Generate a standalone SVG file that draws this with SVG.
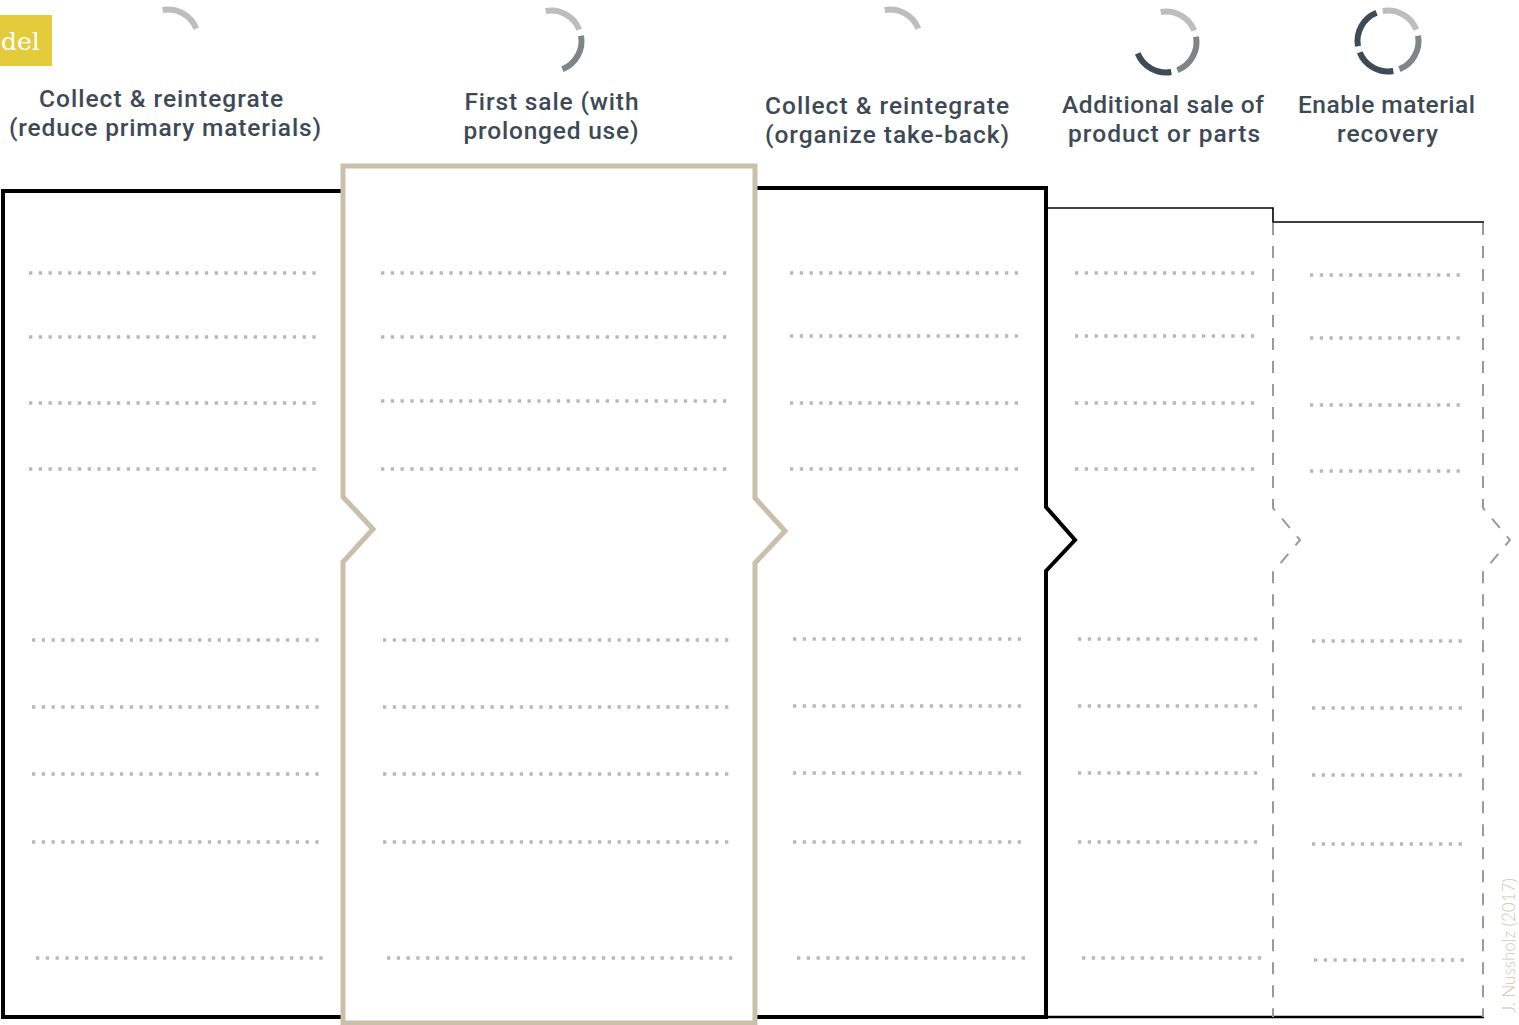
<svg xmlns="http://www.w3.org/2000/svg" xmlns:xlink="http://www.w3.org/1999/xlink" width="1519" height="1025" viewBox="0 0 1519 1025">
  <style>
    .title { font-family: Roboto, "Noto Sans", sans-serif; font-weight: 500; font-size: 24.5px; fill: #3d4a56; text-anchor: middle; }
    .dots { stroke: #b8b8b8; stroke-width: 3.3; stroke-dasharray: 3.3 6.47; fill: none; }
    .frame { fill: none; stroke: #000; stroke-linejoin: miter; }
    .dash { fill: none; stroke: #9a9a9a; stroke-width: 2; stroke-dasharray: 12 11; }
    .seg { fill: none; stroke-width: 6; }
    .s1 { stroke: #bdbdbd; }
    .s2 { stroke: #7e8586; }
    .s3 { stroke: #3e4a56; }
  </style>
  <defs>
    <!-- cycle icon segments, radius 30.5 around the origin -->
    <path id="arc1" d="M-5.30,-30.04 A30.5,30.5 0 0 1 28.28,-11.43"/>
    <path id="arc2" d="M30.04,-5.30 A30.5,30.5 0 0 1 11.43,28.28"/>
    <path id="arc3" d="M5.30,30.04 A30.5,30.5 0 0 1 -28.28,11.43"/>
    <path id="arc4" d="M-30.04,5.30 A30.5,30.5 0 0 1 -11.43,-28.28"/>
  </defs>

  <rect width="1519" height="1025" fill="#fff"/>

  <!-- cropped heading tag -->
  <g id="tag">
    <rect x="0" y="15" width="52" height="51" fill="#e3cb3b"/>
    <text x="1" y="50" font-family="DejaVu Serif, serif" font-size="25" fill="#fff">del</text>
  </g>

  <!-- column frames (chevrons mark the flow between columns) -->
  <g id="connectors">
    <path class="frame" stroke-width="4" d="M341,191 H3 V1017 H345"/>
    <path class="frame" stroke-width="4" d="M757,188 H1046 V507 L1075,540 L1046,571 V1017 H755"/>
    <path class="frame" stroke-width="1.6" d="M1046,208 H1273 V222 H1484"/>
    <path class="frame" stroke-width="2.6" d="M1046,1017 H1484"/>
    <path class="dash" d="M1273,223 V508 L1300,540 L1273,572 V1017"/>
    <path class="dash" d="M1483,223 V508 L1510,540 L1483,572 V1017"/>
  </g>

  <!-- column 1 -->
  <g id="col-collect-reduce">
    <use href="#arc1" class="seg s1" transform="translate(168,40)"/>
    <text class="title" x="161" y="107" textLength="244">Collect &amp; reintegrate</text>
    <text class="title" x="165" y="136" textLength="312">(reduce primary materials)</text>
    <line class="dots" x1="29" y1="273" x2="317" y2="273"/>
    <line class="dots" x1="29" y1="337" x2="317" y2="337"/>
    <line class="dots" x1="29" y1="403" x2="317" y2="403"/>
    <line class="dots" x1="29" y1="469" x2="317" y2="469"/>
    <line class="dots" x1="32" y1="640" x2="320" y2="640"/>
    <line class="dots" x1="32" y1="707" x2="320" y2="707"/>
    <line class="dots" x1="32" y1="774" x2="320" y2="774"/>
    <line class="dots" x1="32" y1="842" x2="320" y2="842"/>
    <line class="dots" x1="36" y1="958" x2="324" y2="958"/>
  </g>

  <!-- column 3 -->
  <g id="col-collect-takeback">
    <use href="#arc1" class="seg s1" transform="translate(890,40)"/>
    <text class="title" x="887" y="114" textLength="244">Collect &amp; reintegrate</text>
    <text class="title" x="887" y="143" textLength="244">(organize take-back)</text>
    <line class="dots" x1="790" y1="273" x2="1020" y2="273"/>
    <line class="dots" x1="790" y1="336" x2="1020" y2="336"/>
    <line class="dots" x1="790" y1="403" x2="1020" y2="403"/>
    <line class="dots" x1="790" y1="469" x2="1020" y2="469"/>
    <line class="dots" x1="793" y1="639" x2="1023" y2="639"/>
    <line class="dots" x1="793" y1="706" x2="1023" y2="706"/>
    <line class="dots" x1="793" y1="773" x2="1023" y2="773"/>
    <line class="dots" x1="793" y1="842" x2="1023" y2="842"/>
    <line class="dots" x1="797" y1="958" x2="1027" y2="958"/>
  </g>

  <!-- column 4 -->
  <g id="col-additional-sale">
    <use href="#arc1" class="seg s1" transform="translate(1166,42)"/>
    <use href="#arc2" class="seg s2" transform="translate(1166,42)"/>
    <use href="#arc3" class="seg s3" transform="translate(1166,42)"/>
    <text class="title" x="1163" y="113" textLength="202">Additional sale of</text>
    <text class="title" x="1164" y="142" textLength="192">product or parts</text>
    <line class="dots" x1="1075" y1="273" x2="1256" y2="273"/>
    <line class="dots" x1="1075" y1="336" x2="1256" y2="336"/>
    <line class="dots" x1="1075" y1="403" x2="1256" y2="403"/>
    <line class="dots" x1="1075" y1="469" x2="1256" y2="469"/>
    <line class="dots" x1="1078" y1="639" x2="1259" y2="639"/>
    <line class="dots" x1="1078" y1="706" x2="1259" y2="706"/>
    <line class="dots" x1="1078" y1="773" x2="1259" y2="773"/>
    <line class="dots" x1="1078" y1="842" x2="1259" y2="842"/>
    <line class="dots" x1="1082" y1="958" x2="1263" y2="958"/>
  </g>

  <!-- column 5 -->
  <g id="col-material-recovery">
    <use href="#arc1" class="seg s1" transform="translate(1388,41)"/>
    <use href="#arc2" class="seg s2" transform="translate(1388,41)"/>
    <use href="#arc3" class="seg s3" transform="translate(1388,41)"/>
    <use href="#arc4" class="seg s3" transform="translate(1388,41)"/>
    <text class="title" x="1386.5" y="113" textLength="177">Enable material</text>
    <text class="title" x="1387.5" y="142" textLength="101">recovery</text>
    <line class="dots" x1="1310" y1="275" x2="1462" y2="275"/>
    <line class="dots" x1="1310" y1="338" x2="1462" y2="338"/>
    <line class="dots" x1="1310" y1="405" x2="1462" y2="405"/>
    <line class="dots" x1="1310" y1="471" x2="1462" y2="471"/>
    <line class="dots" x1="1312" y1="641" x2="1464" y2="641"/>
    <line class="dots" x1="1312" y1="708" x2="1464" y2="708"/>
    <line class="dots" x1="1312" y1="775" x2="1464" y2="775"/>
    <line class="dots" x1="1312" y1="844" x2="1464" y2="844"/>
    <line class="dots" x1="1314" y1="960" x2="1466" y2="960"/>
  </g>

  <!-- column 2 (highlighted, drawn above its neighbours) -->
  <g id="col-first-sale">
    <path d="M343,166 H755 V498 L785,531 L755,563 V1023 H343 V562 L373,529 L343,497 Z" fill="#fff" stroke="#c9bfab" stroke-width="5" stroke-linejoin="miter"/>
    <use href="#arc1" class="seg s1" transform="translate(551,41)"/>
    <use href="#arc2" class="seg s2" transform="translate(551,41)"/>
    <text class="title" x="551.5" y="110" textLength="174">First sale (with</text>
    <text class="title" x="551" y="139" textLength="175">prolonged use)</text>
    <line class="dots" x1="381" y1="273" x2="727" y2="273"/>
    <line class="dots" x1="381" y1="337" x2="727" y2="337"/>
    <line class="dots" x1="381" y1="401" x2="727" y2="401"/>
    <line class="dots" x1="381" y1="469" x2="727" y2="469"/>
    <line class="dots" x1="383" y1="640" x2="729" y2="640"/>
    <line class="dots" x1="383" y1="707" x2="729" y2="707"/>
    <line class="dots" x1="383" y1="774" x2="729" y2="774"/>
    <line class="dots" x1="383" y1="842" x2="729" y2="842"/>
    <line class="dots" x1="387" y1="958" x2="733" y2="958"/>
  </g>

  <!-- credit line -->
  <text transform="translate(1515,1013) rotate(-90)" font-family="Lato, 'Liberation Sans', sans-serif" font-weight="300" font-size="17" fill="#cfc7b6">J. Nussholz (2017)</text>
</svg>
